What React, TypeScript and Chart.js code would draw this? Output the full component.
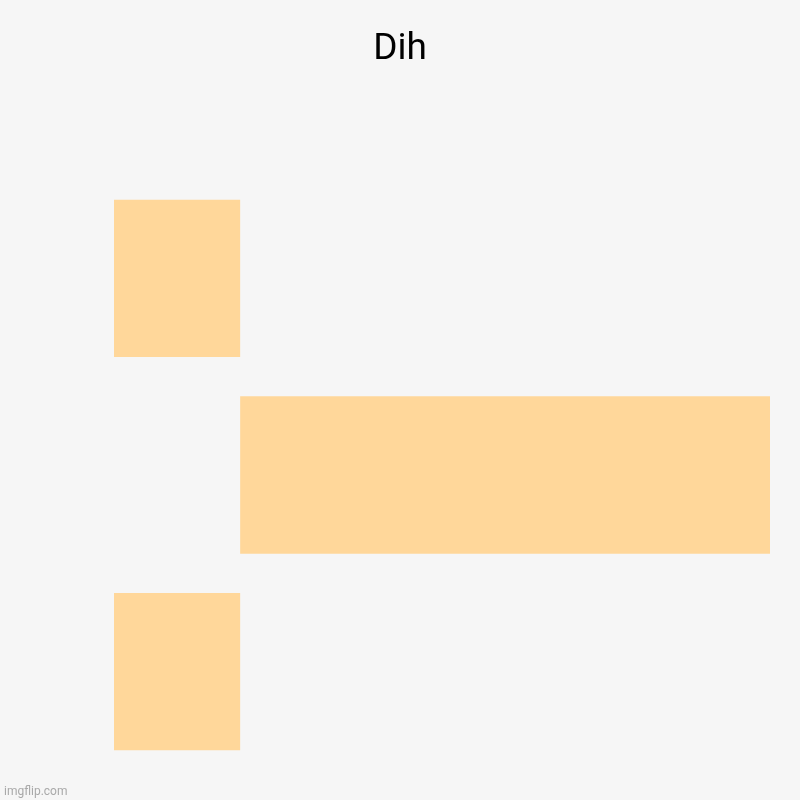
import { useEffect, useRef } from 'react';
import Chart from 'chart.js/auto';

// imgflip chart: category labels are blank
const categories = ['', '', ''];
const values = [-5, 21, -5];
const chartTitle = 'Dih';

// title centred on the whole canvas, plus the imgflip watermark
const overlay = {
  id: 'overlay',
  afterDraw(chart: any) {
    const ctx = chart.ctx;
    ctx.save();
    ctx.font = '37px Roboto, "Noto Sans", sans-serif';
    ctx.fillStyle = '#000000';
    ctx.textAlign = 'center';
    ctx.textBaseline = 'alphabetic';
    ctx.fillText(chartTitle, chart.width / 2, 59);

    ctx.font = '12px Roboto, "Noto Sans", sans-serif';
    ctx.fillStyle = '#a9a9a9';
    ctx.textAlign = 'left';
    ctx.fillText('imgflip.com', 4, 795);
    ctx.restore();
  },
};

const App = () => {
  const chartRef = useRef<HTMLCanvasElement>(null);
  const chartInstance = useRef<Chart | null>(null);

  useEffect(() => {
    document.body.style.margin = '0';
    let cancelled = false;

    const build = () => {
      const canvas = chartRef.current;
      if (!canvas || cancelled) return;
      const ctx = canvas.getContext('2d');
      if (!ctx) return;

      if (chartInstance.current) {
        chartInstance.current.destroy();
      }

      chartInstance.current = new Chart(ctx, {
        type: 'bar',
        data: {
          labels: categories,
          datasets: [{
            data: values,
            backgroundColor: '#ffd79a',
            borderWidth: 0,
            barPercentage: 0.8,
            categoryPercentage: 1,
          }]
        },
        options: {
          indexAxis: 'y',
          animation: false,
          responsive: false,
          layout: {
            padding: { left: 114, right: 30, top: 180, bottom: 30 }
          },
          plugins: {
            legend: { display: false },
            tooltip: { enabled: false },
            title: { display: false },
          },
          scales: {
            x: {
              display: false,
              min: Math.min(...values),
              max: Math.max(...values),
            },
            y: {
              display: false,
            }
          }
        },
        plugins: [overlay]
      });
    };

    // make sure Roboto is ready before the canvas text is drawn
    if (document.fonts && document.fonts.load) {
      document.fonts.load('37px Roboto').then(build, build);
    } else {
      build();
    }

    return () => {
      cancelled = true;
      if (chartInstance.current) {
        chartInstance.current.destroy();
        chartInstance.current = null;
      }
    };
  }, []);

  return (
    <div style={{ width: 800, height: 800, background: '#f6f6f6' }}>
      <canvas ref={chartRef} width={800} height={800} style={{ display: 'block' }}></canvas>
    </div>
  );
};

export default App;
